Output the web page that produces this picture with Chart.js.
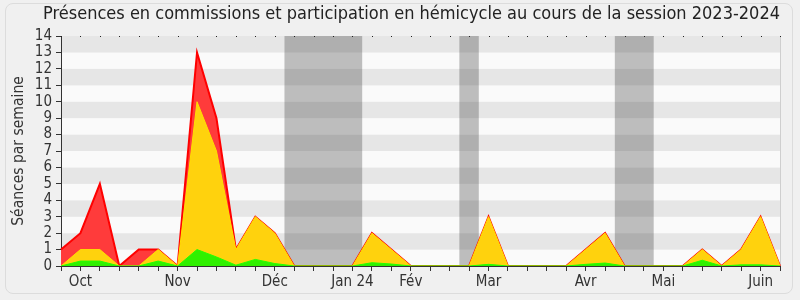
<!DOCTYPE html>
<html>
<head>
<meta charset="utf-8">
<script src="https://cdn.jsdelivr.net/npm/chart.js@4"></script>
<style>
    html, body { margin: 0; padding: 0; background: #f0f0f0; }
    #cadre { position: absolute; left: 5px; top: 3px; width: 786px; height: 289px; border: 1px solid #dcdcdc; border-radius: 8px; }
    #zone { position: absolute; left: 0; top: 0; width: 800px; height: 300px; }
</style>
</head>
<body>
<div id="cadre"></div>
<div id="zone"><canvas id="graph" width="800" height="300"></canvas></div>
<script>
// Semaines de la session (une étiquette par mois)
const semaines = ['', 'Oct', '', '', '', '', 'Nov', '', '', '', '', 'Déc', '', '', '', 'Jan 24', '', '', 'Fév', '', '',
    '', 'Mar', '', '', '', '', 'Avr', '', '', '', 'Mai', '', '', '', '', 'Juin', ''];

// Hauteurs (valeurs cumulées)
const total = [1, 2, 5, 0, 1, 1, 0, 13, 9, 1, 3, 2, 0, 0, 0, 0, 2, 1, 0, 0, 0, 0, 3, 0, 0, 0, 0, 1, 2, 0, 0, 0, 0, 1, 0, 1, 3, 0];
const jaune = [0, 1, 1, 0, 0, 1, 0, 10, 7, 1, 3, 2, 0, 0, 0, 0, 2, 1, 0, 0, 0, 0, 3, 0, 0, 0, 0, 1, 2, 0, 0, 0, 0, 1, 0, 1, 3, 0];
const vert = [0, 0.3, 0.3, 0, 0, 0.3, 0, 1, 0.55, 0.05, 0.4, 0.15, 0, 0, 0, 0, 0.2, 0.12, 0, 0, 0, 0, 0.1, 0, 0, 0, 0, 0.1, 0.18, 0, 0, 0, 0, 0.35, 0, 0.07, 0.07, 0];

// Vacances parlementaires (en semaines)
const vacancesDebut = [11.5, 20.5, 28.5];
const vacancesFin = [15.5, 21.5, 30.5];

const police = "'DejaVu Sans Condensed', 'DejaVu Sans', sans-serif";

// Fond rayé + vacances
const fondPlugin = {
    id: 'fond',
    beforeDraw(chart) {
        const { ctx, chartArea: a, scales: { x, y } } = chart;
        ctx.save();
        for (let v = 0; v < 14; v++) {
            const y0 = y.getPixelForValue(v);
            const y1 = y.getPixelForValue(v + 1);
            ctx.fillStyle = v % 2 === 1 ? '#e6e6e6' : '#fafafa';
            ctx.fillRect(a.left, y1, a.right - a.left, y0 - y1);
        }
        ctx.fillStyle = 'rgba(50, 50, 50, 0.3)';
        vacancesDebut.forEach((d, i) => {
            const x0 = x.getPixelForValue(d);
            const x1 = x.getPixelForValue(vacancesFin[i]);
            ctx.fillRect(x0, a.top, x1 - x0, a.bottom - a.top);
        });
        ctx.strokeStyle = '#cfcfcf';
        ctx.lineWidth = 1;
        ctx.beginPath();
        ctx.moveTo(a.right + 0.5, a.top);
        ctx.lineTo(a.right + 0.5, a.bottom);
        ctx.stroke();
        ctx.restore();
    },
    afterDatasetsDraw(chart) {
        const { ctx, chartArea: a, scales: { x } } = chart;
        ctx.save();
        ctx.fillStyle = '#222';
        semaines.forEach((_, i) => {
            const px = Math.round(x.getPixelForValue(i));
            ctx.fillRect(px, a.top, 1, 1);
        });
        ctx.restore();
    }
};

new Chart(document.getElementById('graph'), {
    type: 'line',
    data: {
        labels: semaines,
        datasets: [
            { data: vert, borderColor: '#22ff00', backgroundColor: '#30f000', borderWidth: 1, fill: 'origin' },
            { data: jaune, borderColor: '#ffe000', backgroundColor: '#ffd20d', borderWidth: 1, fill: 'origin' },
            { data: total, borderColor: '#ff0000', backgroundColor: '#ff3b3b', borderWidth: 2, fill: 'origin' }
        ]
    },
    options: {
        responsive: false,
        animation: false,
        devicePixelRatio: 1,
        layout: { padding: { left: 0, right: 20, top: 0, bottom: 6 } },
        elements: { line: { tension: 0 }, point: { radius: 0 } },
        plugins: {
            legend: { display: false },
            tooltip: { enabled: false },
            title: {
                display: true,
                align: 'end',
                text: 'Présences en commissions et participation en hémicycle au cours de la session 2023-2024',
                color: '#222',
                font: { size: 18, weight: 'normal', family: police },
                padding: { top: 4, bottom: 10.4 }
            }
        },
        scales: {
            x: {
                ticks: { autoSkip: false, maxRotation: 0, color: '#333', font: { size: 15, family: police }, padding: 2 },
                grid: { drawOnChartArea: false, tickLength: 5, color: '#333' },
                border: { color: '#333' },
                afterFit(s) { s.height = 28; }
            },
            y: {
                min: 0,
                max: 14,
                ticks: { stepSize: 1, autoSkip: false, color: '#333', font: { size: 15, family: police }, padding: 4 },
                grid: { drawOnChartArea: false, tickLength: 5, color: '#333' },
                border: { color: '#333' },
                title: { display: true, text: 'Séances par semaine', color: '#333', font: { size: 15.5, family: police }, padding: { top: 10, bottom: 0 } },
                afterFit(s) { s.width = 61; }
            }
        }
    },
    plugins: [fondPlugin]
});
</script>
</body>
</html>
